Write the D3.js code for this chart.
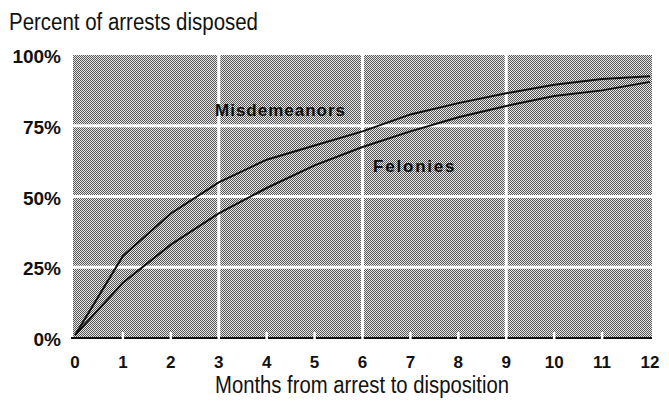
<!DOCTYPE html>
<html>
<head>
<meta charset="utf-8">
<script src="https://cdn.jsdelivr.net/npm/d3@7"></script>
<style>
  body { margin: 0; background: #fff; }
  text { font-family: "Liberation Sans", Arial, sans-serif; fill: #111; }
</style>
</head>
<body>
<svg width="669" height="404"></svg>
<script>
// data
var months = [0, 1, 2, 3, 4, 5, 6, 7, 8, 9, 10, 11, 12];
var misdemeanors = [1, 29, 44, 55, 63, 68, 73, 79, 83, 86.5, 89.5, 91.5, 92.5];
var felonies = [1, 19.5, 33, 44, 53, 61, 67.5, 73, 78, 82, 85.5, 87.5, 90.5];
var y_ticks = [0, 25, 50, 75, 100];
var x_grid = [3, 6, 9];
var y_grid = [25, 50, 75];

// display
var margin = {top: 55, left: 73, right: 17, bot: 66};
var width = 669, height = 404;

var svg = d3.select("svg");

var x = d3.scaleLinear().domain([0, 12]).range([margin.left + 2, width - margin.right - 2]);
var y = d3.scaleLinear().domain([0, 100]).range([height - margin.bot, margin.top]);

// halftone-ish pattern
var pat = svg.append("defs").append("pattern")
    .attr("id", "dots")
    .attr("width", 2).attr("height", 2)
    .attr("patternUnits", "userSpaceOnUse");
pat.append("rect").attr("width", 2).attr("height", 2).attr("fill", "#e8e8e8");
pat.append("rect").attr("width", 1).attr("height", 1).attr("fill", "#555");
pat.append("rect").attr("x", 1).attr("y", 1).attr("width", 1).attr("height", 1).attr("fill", "#555");

svg.append("rect")
    .attr("x", margin.left)
    .attr("y", y(100))
    .attr("width", width - margin.right - margin.left)
    .attr("height", y(0) - y(100))
    .attr("fill", "url(#dots)");

// white grid
svg.selectAll(".hgrid")
    .data(y_grid)
    .enter()
    .append("line")
    .attr("x1", margin.left).attr("x2", width - margin.right)
    .attr("y1", function(d) { return y(d); })
    .attr("y2", function(d) { return y(d); })
    .attr("stroke", "#fff")
    .attr("stroke-width", 3);

svg.selectAll(".vgrid")
    .data(x_grid)
    .enter()
    .append("line")
    .attr("x1", function(d) { return x(d); })
    .attr("x2", function(d) { return x(d); })
    .attr("y1", y(100)).attr("y2", y(0))
    .attr("stroke", "#fff")
    .attr("stroke-width", 3);

// baseline
svg.append("line")
    .attr("x1", margin.left - 2).attr("x2", width - margin.right)
    .attr("y1", y(0)).attr("y2", y(0))
    .attr("stroke", "#111")
    .attr("stroke-width", 2);

svg.selectAll(".tick-gap")
    .data(months.slice(1, 12))
    .enter()
    .append("line")
    .attr("x1", function(d) { return x(d); })
    .attr("x2", function(d) { return x(d); })
    .attr("y1", y(0) - 6).attr("y2", y(0) + 1)
    .attr("stroke", "#fff")
    .attr("stroke-width", 2.5);

// curves
var line = d3.line()
    .x(function(d, i) { return x(months[i]); })
    .y(function(d) { return y(d); });

[misdemeanors, felonies].forEach(function(s) {
    svg.append("path")
        .attr("d", line(s))
        .attr("fill", "none")
        .attr("stroke", "#111")
        .attr("stroke-width", 2);
});

// series labels
svg.append("text")
    .attr("x", 215).attr("y", y(78.5))
    .attr("font-size", 17).attr("font-weight", "bold")
    .attr("letter-spacing", 1)
    .text("Misdemeanors");

svg.append("text")
    .attr("x", 373).attr("y", y(58.5))
    .attr("font-size", 17).attr("font-weight", "bold")
    .attr("letter-spacing", 1.8)
    .text("Felonies");

// axis labels
svg.selectAll(".ylab")
    .data(y_ticks)
    .enter()
    .append("text")
    .attr("x", 61)
    .attr("y", function(d) { return y(d) + 8; })
    .attr("text-anchor", "end")
    .attr("font-size", 19)
    .attr("font-weight", "bold")
    .text(function(d) { return d + "%"; });

svg.selectAll(".xlab")
    .data(months)
    .enter()
    .append("text")
    .attr("x", function(d) { return x(d); })
    .attr("y", 368)
    .attr("text-anchor", "middle")
    .attr("font-size", 17)
    .attr("font-weight", "bold")
    .text(function(d) { return d; });

// titles (condensed type, squeezed to the reference width)
svg.append("text")
    .attr("x", 9).attr("y", 30)
    .attr("font-size", 23)
    .attr("textLength", 249)
    .attr("lengthAdjust", "spacingAndGlyphs")
    .text("Percent of arrests disposed");

svg.append("text")
    .attr("x", 215).attr("y", 393)
    .attr("font-size", 23)
    .attr("textLength", 294)
    .attr("lengthAdjust", "spacingAndGlyphs")
    .text("Months from arrest to disposition");
</script>
</body>
</html>
